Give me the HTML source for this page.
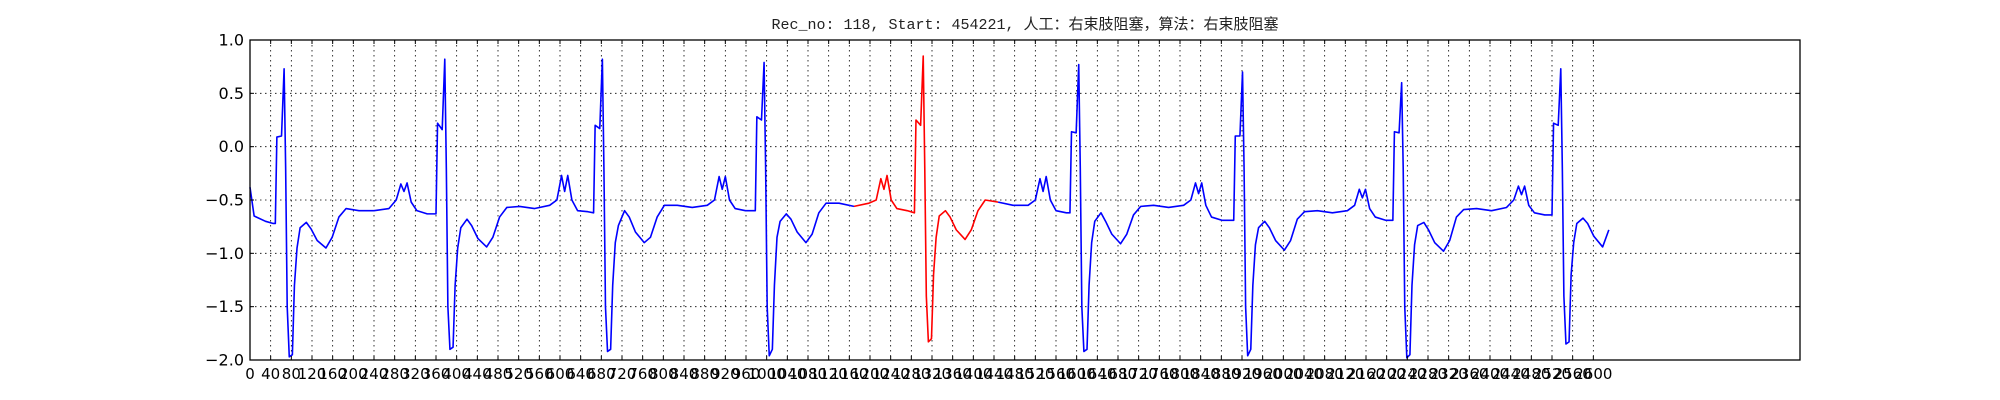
<!DOCTYPE html>
<html><head><meta charset="utf-8"><style>
html,body{margin:0;padding:0;background:#fff;}
svg{display:block;}
</style></head><body>
<svg id="chart" width="2000" height="400" xmlns="http://www.w3.org/2000/svg">
<rect x="0" y="0" width="2000" height="400" fill="#fff"/>
<text x="1025" y="29" text-anchor="middle" font-family="'Liberation Mono','Noto Sans CJK SC',monospace" font-size="15" fill="#222">Rec_no: 118, Start: 454221, 人工：右束肢阻塞，算法：右束肢阻塞</text>
<g id="grid"></g>
<g id="series"></g>
<rect x="250" y="40" width="1550" height="320" fill="none" stroke="#000" stroke-width="1.3"/>
<g id="ticks"></g>
</svg>
<script>
const xTickLabels = [];
for (let v = 0; v <= 2600; v += 40) xTickLabels.push(v);
const yTickValues = [1.0, 0.5, 0.0, -0.5, -1.0, -1.5, -2.0];
const rPeaks = [66, 377, 682, 995, 1303, 1604, 1921, 2229, 2537];
const beatOffsets = [-17,-14,-5,0,3,6,10,16,20,25,31,43,52,64,81,93,106,120,145,174,203,217,226,232,238,246,257,277];
const leadSamples = [0, 8, 30, 45];
const leadValues = [-0.38, -0.65, -0.70, -0.72];
const beat1 = [-0.72,0.09,0.10,0.73,-0.2,-1.5,-1.97,-1.95,-1.3,-0.95,-0.76,-0.71,-0.77,-0.88,-0.95,-0.85,-0.66,-0.58,-0.6,-0.6,-0.58,-0.5,-0.35,-0.42,-0.34,-0.52,-0.6,-0.63];
const beat2 = [-0.63,0.22,0.16,0.82,-0.2,-1.5,-1.9,-1.88,-1.3,-0.95,-0.76,-0.68,-0.74,-0.86,-0.94,-0.85,-0.66,-0.57,-0.56,-0.58,-0.55,-0.5,-0.27,-0.42,-0.27,-0.5,-0.6,-0.61];
const beat3 = [-0.62,0.2,0.17,0.82,-0.2,-1.5,-1.92,-1.9,-1.3,-0.9,-0.74,-0.6,-0.66,-0.8,-0.9,-0.85,-0.66,-0.55,-0.55,-0.57,-0.55,-0.5,-0.28,-0.4,-0.28,-0.5,-0.58,-0.6];
const beat4 = [-0.6,0.28,0.25,0.79,-0.2,-1.5,-1.96,-1.9,-1.3,-0.85,-0.7,-0.63,-0.68,-0.8,-0.9,-0.82,-0.62,-0.53,-0.53,-0.56,-0.53,-0.5,-0.3,-0.4,-0.27,-0.5,-0.58,-0.6];
const beat5 = [-0.62,0.25,0.2,0.85,-0.2,-1.4,-1.83,-1.8,-1.2,-0.85,-0.65,-0.6,-0.66,-0.78,-0.87,-0.78,-0.6,-0.5,-0.52,-0.55,-0.55,-0.5,-0.3,-0.42,-0.28,-0.5,-0.6,-0.62];
const beat6 = [-0.62,0.14,0.13,0.77,-0.2,-1.5,-1.92,-1.9,-1.3,-0.9,-0.7,-0.62,-0.7,-0.82,-0.91,-0.82,-0.64,-0.56,-0.55,-0.57,-0.55,-0.5,-0.34,-0.44,-0.34,-0.55,-0.66,-0.69];
const beat7 = [-0.69,0.1,0.1,0.70,-0.2,-1.5,-1.96,-1.9,-1.3,-0.92,-0.76,-0.7,-0.76,-0.88,-0.97,-0.88,-0.68,-0.61,-0.6,-0.62,-0.6,-0.55,-0.40,-0.48,-0.40,-0.58,-0.66,-0.69];
const beat8 = [-0.69,0.14,0.13,0.60,-0.2,-1.5,-1.98,-1.95,-1.3,-0.92,-0.74,-0.71,-0.78,-0.9,-0.98,-0.88,-0.66,-0.59,-0.58,-0.6,-0.57,-0.5,-0.37,-0.45,-0.37,-0.55,-0.62,-0.64];
const beat9 = [-0.64,0.22,0.2,0.73,-0.2,-1.4,-1.85,-1.83,-1.2,-0.9,-0.72,-0.67,-0.72,-0.84,-0.94,-0.78];
const beats = [beat1, beat2, beat3, beat4, beat5, beat6, beat7, beat8, beat9];
const redRange = [1198, 1470];

const X0 = 250, X1 = 1800, Y0 = 40, Y1 = 360;
const xMin = 0, xMax = 3000, yMin = -2.0, yMax = 1.0;
const xs = v => X0 + (v - xMin) / (xMax - xMin) * (X1 - X0);
const ys = v => Y1 - (v - yMin) / (yMax - yMin) * (Y1 - Y0);
const NS = 'http://www.w3.org/2000/svg';
const grid = document.getElementById('grid');
const ticks = document.getElementById('ticks');
const series = document.getElementById('series');
function mk(tag, attrs, parent) {
  const e = document.createElementNS(NS, tag);
  for (const k in attrs) e.setAttribute(k, attrs[k]);
  parent.appendChild(e);
  return e;
}
xTickLabels.forEach(v => {
  const x = xs(v);
  if (v > 0) {
    const g = mk('line', {x1: x, x2: x, y1: Y0, y2: Y1, stroke: '#000', 'stroke-width': 0.8, 'stroke-dasharray': '1.5,3.5'}, grid);
    
    
  }
  const t1 = mk('line', {x1: x, x2: x, y1: Y1, y2: Y1 - 4, stroke: '#000', 'stroke-width': 1}, ticks);
  
  
  const t2 = mk('line', {x1: x, x2: x, y1: Y0, y2: Y0 + 4, stroke: '#000', 'stroke-width': 1}, ticks);
  
  
  const lb = mk('text', {x: x, y: 379, 'text-anchor': 'middle', 'font-family': "'DejaVu Sans','Liberation Sans',sans-serif", 'font-size': 15, fill: '#000'}, ticks);
  lb.textContent = String(v);
  
  
});
yTickValues.forEach(v => {
  const y = ys(v);
  if (v < 1.0 && v > -2.0) {
    const g = mk('line', {x1: X0, x2: X1, y1: y, y2: y, stroke: '#000', 'stroke-width': 0.8, 'stroke-dasharray': '1.5,3.5'}, grid);
    
    
  }
  const t1 = mk('line', {x1: X0, x2: X0 + 4, y1: y, y2: y, stroke: '#000', 'stroke-width': 1}, ticks);
  
  
  const t2 = mk('line', {x1: X1, x2: X1 - 4, y1: y, y2: y, stroke: '#000', 'stroke-width': 1}, ticks);
  
  
  const lb = mk('text', {x: X0 - 6, y: y + 5.5, 'text-anchor': 'end', 'font-family': "'DejaVu Sans','Liberation Sans',sans-serif", 'font-size': 16, fill: '#000'}, ticks);
  lb.textContent = v.toFixed(1).replace('-', '\u2212');
  
  
});
const pts = [];
leadSamples.forEach((s, i) => pts.push([s, leadValues[i]]));
beats.forEach((vals, b) => {
  vals.forEach((v, j) => pts.push([rPeaks[b] + beatOffsets[j], v]));
});
let segs = [], cur = null;
function colorOf(s) { return (s >= redRange[0] && s <= redRange[1]) ? 'red' : 'blue'; }
pts.forEach(p => {
  const c = colorOf(p[0]);
  if (!cur || cur.c !== c) {
    const prev = cur ? cur.p[cur.p.length - 1] : null;
    cur = {c: c, p: prev ? [prev] : []};
    segs.push(cur);
  }
  cur.p.push(p);
});
segs.forEach(sg => {
  const d = sg.p.map((p, i) => (i ? 'L' : 'M') + xs(p[0]).toFixed(2) + ',' + ys(p[1]).toFixed(2)).join('');
  const path = mk('path', {d: d, fill: 'none', stroke: sg.c === 'red' ? '#ff0000' : '#0000ff', 'stroke-width': 1.6, 'stroke-linejoin': 'round'}, series);
  
  
});
</script>
</body></html>
